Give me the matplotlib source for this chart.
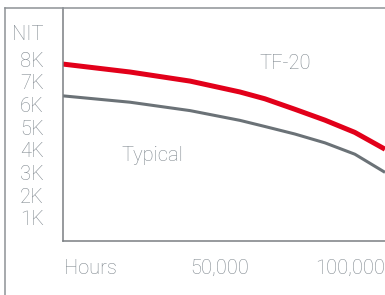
import matplotlib.pyplot as plt
from matplotlib.lines import Line2D

# данные
hours = [-10400, 15400, 38500, 57700, 67300, 78800, 90400, 101900, 113500]
tf20 = [7.78, 7.43, 7.03, 6.55, 6.25, 5.79, 5.31, 4.77, 4.03]
typical = [6.38, 6.10, 5.73, 5.30, 5.03, 4.70, 4.31, 3.81, 3.01]

y_ticks = [1, 2, 3, 4, 5, 6, 7, 8, 9.19]
y_labels = ["1K", "2K", "3K", "4K", "5K", "6K", "7K", "8K", "NIT"]
x_ticks = [0, 50000, 100000]
x_labels = ["Hours", "50,000", "100,000"]

text_color = "#7f878e"
fsize = 14.5
plt.rcParams['font.family'] = ['Roboto', 'DejaVu Sans']

fig = plt.figure(figsize=(3.85, 2.95), dpi=100)

# внешняя рамка
fig.add_artist(Line2D([5 / 385, 5 / 385], [0, 1 - 8 / 295], color="#8e9296", lw=1.1))
fig.add_artist(Line2D([5 / 385, 1], [1 - 8 / 295, 1 - 8 / 295], color="#8e9296", lw=1.1))

ax = fig.add_axes([63 / 385, 1 - 240.7 / 295, 322 / 385, 232.7 / 295])
ax.plot(hours, tf20, color="#e2001a", lw=3.6, solid_capstyle='butt', solid_joinstyle='round')
ax.plot(hours, typical, color="#6b7277", lw=2.2, solid_capstyle='butt', solid_joinstyle='round')

ax.set_xlim(-10400, 113500)
ax.set_ylim(0, 10.25)

for side in ['top', 'right']:
    ax.spines[side].set_visible(False)
for side in ['left', 'bottom']:
    ax.spines[side].set_color("#7a7f83")
    ax.spines[side].set_linewidth(1.1)

ax.set_yticks(y_ticks)
ax.set_yticklabels(y_labels)
ax.set_xticks(x_ticks)
ax.set_xticklabels(x_labels)
ax.tick_params(axis='both', length=0, labelsize=fsize, labelcolor=text_color)
ax.tick_params(axis='y', pad=14)
ax.tick_params(axis='x', pad=13)
for lbl in ax.get_xticklabels() + ax.get_yticklabels():
    lbl.set_fontweight('light')

ax.text(75000, 7.8, "TF-20", ha='center', va='center', fontsize=fsize,
        color=text_color, fontweight='light')
ax.text(24000, 3.75, "Typical", ha='center', va='center', fontsize=fsize,
        color=text_color, fontweight='light')

fig.savefig("out.png", dpi=100)
